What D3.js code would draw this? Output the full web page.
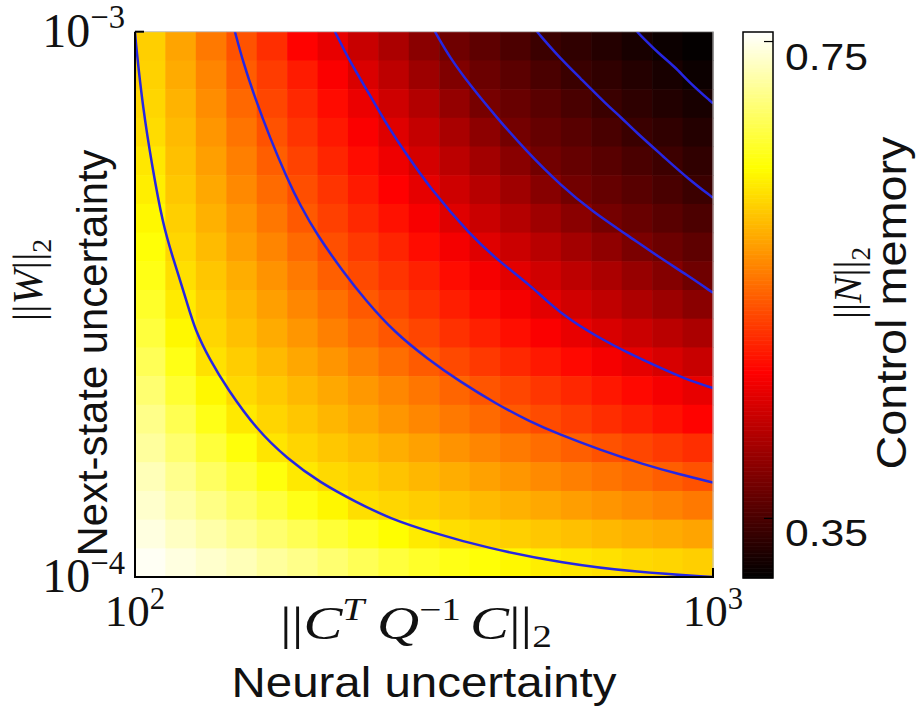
<!DOCTYPE html>
<html>
<head>
<meta charset="utf-8">
<script src="https://cdn.jsdelivr.net/npm/d3@7/dist/d3.min.js"></script>
<style>
  html, body { margin: 0; padding: 0; background: #fff; }
  svg { display: block; }
</style>
</head>
<body>
<svg id="chart" width="921" height="719"></svg>
<script>
// Cell centres of the log-spaced grid
const neuralUncertainty = [106.2, 119.9, 135.4, 152.9, 172.5, 194.8, 219.9, 248.1, 280.1, 316.2,
                           356.9, 402.9, 454.9, 513.4, 579.6, 654.3, 738.5, 833.7, 941.2];
// Rows listed from the top of the plot (largest ||W||) downwards
const nextStateUncertainty = [9.412e-4, 8.337e-4, 7.386e-4, 6.543e-4, 5.797e-4, 5.135e-4, 4.549e-4,
                              4.030e-4, 3.570e-4, 3.162e-4, 2.802e-4, 2.481e-4, 2.198e-4, 1.948e-4,
                              1.725e-4, 1.528e-4, 1.354e-4, 1.199e-4, 1.062e-4];

// ||N||_2 control memory, one row per next-state uncertainty level
const controlMemory = [
  [0.611,0.582,0.553,0.527,0.503,0.473,0.456,0.435,0.415,0.393,0.375,0.363,0.351,0.340,0.332,0.324,0.316,0.308,0.303],
  [0.613,0.587,0.561,0.534,0.512,0.490,0.469,0.447,0.427,0.406,0.386,0.372,0.361,0.350,0.339,0.332,0.324,0.316,0.308],
  [0.616,0.592,0.567,0.542,0.519,0.499,0.479,0.459,0.439,0.420,0.400,0.380,0.370,0.360,0.349,0.339,0.331,0.323,0.316],
  [0.620,0.597,0.573,0.550,0.527,0.507,0.488,0.469,0.450,0.432,0.414,0.395,0.378,0.368,0.359,0.349,0.339,0.332,0.324],
  [0.627,0.601,0.579,0.557,0.535,0.516,0.497,0.480,0.461,0.443,0.426,0.409,0.392,0.377,0.368,0.359,0.350,0.341,0.332],
  [0.632,0.606,0.585,0.564,0.544,0.524,0.507,0.489,0.472,0.455,0.439,0.423,0.407,0.391,0.377,0.368,0.359,0.349,0.340],
  [0.639,0.611,0.591,0.572,0.552,0.532,0.515,0.499,0.483,0.467,0.450,0.436,0.421,0.407,0.393,0.379,0.370,0.360,0.351],
  [0.646,0.616,0.598,0.579,0.561,0.543,0.525,0.510,0.496,0.480,0.465,0.451,0.437,0.424,0.410,0.397,0.383,0.373,0.363],
  [0.653,0.622,0.605,0.588,0.571,0.554,0.536,0.521,0.507,0.494,0.480,0.466,0.453,0.440,0.427,0.415,0.402,0.389,0.375],
  [0.662,0.630,0.611,0.595,0.579,0.563,0.548,0.532,0.518,0.505,0.492,0.479,0.466,0.453,0.441,0.429,0.417,0.405,0.393],
  [0.671,0.639,0.616,0.601,0.587,0.573,0.558,0.544,0.530,0.518,0.505,0.493,0.481,0.469,0.457,0.446,0.436,0.425,0.415],
  [0.682,0.653,0.623,0.610,0.597,0.584,0.572,0.559,0.546,0.533,0.521,0.510,0.499,0.488,0.477,0.466,0.455,0.445,0.435],
  [0.694,0.666,0.639,0.618,0.607,0.596,0.585,0.574,0.563,0.551,0.540,0.529,0.519,0.508,0.498,0.487,0.477,0.466,0.456],
  [0.705,0.680,0.654,0.629,0.615,0.605,0.594,0.584,0.573,0.563,0.553,0.543,0.532,0.522,0.513,0.502,0.493,0.483,0.473],
  [0.714,0.693,0.670,0.648,0.626,0.615,0.606,0.598,0.589,0.580,0.571,0.562,0.554,0.545,0.536,0.527,0.519,0.511,0.503],
  [0.726,0.707,0.687,0.668,0.649,0.629,0.618,0.611,0.603,0.595,0.588,0.580,0.573,0.565,0.557,0.550,0.543,0.535,0.527],
  [0.735,0.719,0.703,0.687,0.671,0.654,0.638,0.622,0.616,0.610,0.604,0.597,0.591,0.585,0.578,0.572,0.566,0.560,0.553],
  [0.744,0.731,0.719,0.706,0.693,0.681,0.668,0.655,0.643,0.630,0.621,0.616,0.611,0.606,0.601,0.596,0.591,0.587,0.582],
  [0.753,0.744,0.735,0.726,0.714,0.705,0.694,0.682,0.671,0.662,0.653,0.646,0.639,0.632,0.627,0.623,0.618,0.615,0.611]
];

// Iso-lines of control memory, as [neural uncertainty, next-state uncertainty] points
const contour1 = [[100,1.0e-3],[100.4,9.45e-4],[103.2,7.24e-4],[107.0,5.69e-4],[111.8,4.42e-4],[116.3,3.85e-4],
                  [123.0,3.19e-4],[127.0,2.84e-4],[134.8,2.50e-4],[144.2,2.22e-4],[162.6,1.86e-4],[183.2,1.65e-4],
                  [208.9,1.49e-4],[242.1,1.37e-4],[276.1,1.28e-4],[323.6,1.21e-4],[406.4,1.13e-4],[549.5,1.06e-4],
                  [738.9,1.02e-4],[1000,1.0e-4]];
const contour2 = [[148.9,1.0e-3],[153.8,8.80e-4],[161.3,7.56e-4],[171.3,6.38e-4],[183.2,5.39e-4],[193.0,4.81e-4],
                  [206.5,4.24e-4],[229.1,3.63e-4],[251.0,3.21e-4],[281.2,2.81e-4],[321.0,2.51e-4],[363.0,2.29e-4],
                  [424.0,2.07e-4],[481.0,1.93e-4],[539.0,1.83e-4],[638.0,1.71e-4],[756.0,1.61e-4],[880.0,1.54e-4],
                  [1000,1.49e-4]];
const contour3 = [[221.8,1.0e-3],[235.5,8.80e-4],[255.1,7.65e-4],[272.9,6.74e-4],[295.5,5.94e-4],[323.8,5.17e-4],
                  [379.9,4.24e-4],[428.0,3.78e-4],[482.5,3.43e-4],[518.2,3.19e-4],[565.6,2.96e-4],[630.0,2.76e-4],
                  [709.9,2.58e-4],[809.5,2.42e-4],[901.6,2.30e-4],[1000,2.22e-4]];
const contour4 = [[330.4,1.0e-3],[350.8,8.95e-4],[379.9,7.98e-4],[422.9,6.95e-4],[476.7,6.02e-4],[543.6,5.24e-4],
                  [620.0,4.67e-4],[709.9,4.24e-4],[809.5,3.85e-4],[901.6,3.58e-4],[1000,3.32e-4]];
const contour5 = [[496.1,1.0e-3],[537.0,9.07e-4],[588.7,8.23e-4],[655.6,7.34e-4],[695.0,6.95e-4],[733.8,6.56e-4],
                  [822.5,5.89e-4],[906.5,5.37e-4],[1000,4.96e-4]];
const contour6 = [[738.9,1.0e-3],[809.5,9.07e-4],[861.0,8.61e-4],[906.5,8.10e-4],[1000,7.39e-4]];

const xTickValues = [100, 1000];
const yTickValues = [1e-4, 1e-3];
const colorbarTicks = [0.35, 0.75];
const colorLimits = [0.30, 0.758];

// MATLAB-style "hot" colour map
function hot(t) {
  t = Math.max(0, Math.min(1, t));
  const r = Math.min(1, t / 0.375);
  const g = Math.max(0, Math.min(1, (t - 0.375) / 0.375));
  const b = Math.max(0, Math.min(1, (t - 0.75) / 0.25));
  return d3.rgb(r * 255, g * 255, b * 255).toString();
}

const svg = d3.select("#chart");
const plot = { left: 135, right: 713, top: 31.7, bottom: 577 };

const x = d3.scaleLog().domain([100, 1000]).range([plot.left, plot.right]);
const y = d3.scaleLog().domain([1e-4, 1e-3]).range([plot.bottom, plot.top]);
const color = d3.scaleSequential(hot).domain(colorLimits).clamp(true);

// cell boundaries halfway (in log space) between neighbouring centres
function bounds(centres, lo, hi) {
  const sorted = centres.slice().sort((a, b) => a - b);
  const b = [lo];
  for (let i = 0; i < sorted.length - 1; i++) b.push(Math.sqrt(sorted[i] * sorted[i + 1]));
  b.push(hi);
  return { sorted, b };
}
const xb = bounds(neuralUncertainty, 100, 1000);
const yb = bounds(nextStateUncertainty, 1e-4, 1e-3);

const cells = [];
nextStateUncertainty.forEach((w, r) => {
  const k = yb.sorted.indexOf(w);
  neuralUncertainty.forEach((n, c) => {
    const j = xb.sorted.indexOf(n);
    cells.push({ x0: xb.b[j], x1: xb.b[j + 1], y0: yb.b[k], y1: yb.b[k + 1], v: controlMemory[r][c] });
  });
});

svg.append("defs").append("clipPath").attr("id", "plotClip")
  .append("rect")
  .attr("x", plot.left).attr("y", plot.top)
  .attr("width", plot.right - plot.left).attr("height", plot.bottom - plot.top);

svg.append("g")
  .selectAll("rect")
  .data(cells)
  .join("rect")
  .attr("x", d => x(d.x0))
  .attr("y", d => y(d.y1))
  .attr("width", d => x(d.x1) - x(d.x0) + 0.6)
  .attr("height", d => y(d.y0) - y(d.y1) + 0.6)
  .attr("fill", d => color(d.v));

// iso-lines
const line = d3.line()
  .x(d => x(d[0]))
  .y(d => y(d[1]))
  .curve(d3.curveBasis);

svg.append("g")
  .attr("clip-path", "url(#plotClip)")
  .selectAll("path")
  .data([contour1, contour2, contour3, contour4, contour5, contour6])
  .join("path")
  .attr("d", line)
  .attr("fill", "none")
  .attr("stroke", "#2626e2")
  .attr("stroke-width", 2.5);

// frame: light top/right, black left/bottom
const frame = svg.append("g");
frame.append("line").attr("x1", plot.left).attr("x2", plot.right).attr("y1", plot.top).attr("y2", plot.top)
  .attr("stroke", "#c4c4c4").attr("stroke-width", 1);
frame.append("line").attr("x1", plot.right).attr("x2", plot.right).attr("y1", plot.top).attr("y2", plot.bottom)
  .attr("stroke", "#c4c4c4").attr("stroke-width", 1);
frame.append("line").attr("x1", plot.left).attr("x2", plot.left).attr("y1", plot.top).attr("y2", plot.bottom + 1)
  .attr("stroke", "#000").attr("stroke-width", 2);
frame.append("line").attr("x1", plot.left - 1).attr("x2", plot.right + 1).attr("y1", plot.bottom).attr("y2", plot.bottom)
  .attr("stroke", "#000").attr("stroke-width", 2);

// inward ticks
frame.selectAll(".xt").data(xTickValues).join("line")
  .attr("x1", d => x(d)).attr("x2", d => x(d))
  .attr("y1", plot.bottom).attr("y2", plot.bottom - 9)
  .attr("stroke", "#000").attr("stroke-width", 2);
frame.selectAll(".yt").data(yTickValues).join("line")
  .attr("y1", d => y(d)).attr("y2", d => y(d))
  .attr("x1", plot.left).attr("x2", plot.left + 9)
  .attr("stroke", "#000").attr("stroke-width", 2);

const serif = "'Liberation Serif', 'DejaVu Serif', serif";
const sans = "'Liberation Sans', Arial, sans-serif";

// power-of-ten tick labels
function powLabel(sel, exp, size) {
  sel.append("tspan").text("10");
  sel.append("tspan").attr("dy", -0.38 * size).attr("font-size", size * 0.68).text(exp);
}
xTickValues.forEach(v => {
  const t = svg.append("text")
    .attr("x", x(v)).attr("y", 626)
    .attr("text-anchor", "middle")
    .attr("font-family", serif).attr("font-size", 45).attr("fill", "#111");
  powLabel(t, String(Math.round(Math.log10(v))), 45);
});
yTickValues.forEach(v => {
  const t = svg.append("text")
    .attr("x", 125).attr("y", y(v) + 15)
    .attr("text-anchor", "end")
    .attr("font-family", serif).attr("font-size", 48).attr("fill", "#111");
  powLabel(t, "\u2212" + Math.abs(Math.round(Math.log10(v))), 48);
});

// x-axis math label ||C^T Q^{-1} C||_2
const xm = svg.append("text")
  .attr("x", 416).attr("y", 639)
  .attr("text-anchor", "middle")
  .attr("font-family", serif).attr("font-size", 46).attr("fill", "#111")
  .attr("textLength", 272).attr("lengthAdjust", "spacingAndGlyphs");
xm.append("tspan").text("||");
xm.append("tspan").attr("font-style", "italic").text("C");
xm.append("tspan").attr("font-style", "italic").attr("font-size", 31).attr("dy", -19).text("T");
xm.append("tspan").attr("font-style", "italic").attr("dy", 19).attr("dx", 10).text("Q");
xm.append("tspan").attr("font-size", 31).attr("dy", -19).text("\u22121");
xm.append("tspan").attr("font-style", "italic").attr("dy", 19).attr("dx", 7).text("C");
xm.append("tspan").text("||");
xm.append("tspan").attr("font-size", 31).attr("dy", 8).text("2");

svg.append("text")
  .attr("x", 424).attr("y", 697)
  .attr("text-anchor", "middle")
  .attr("font-family", sans).attr("font-size", 43).attr("fill", "#111")
  .attr("textLength", 385).attr("lengthAdjust", "spacingAndGlyphs")
  .text("Neural uncertainty");

// y-axis labels
const wm = svg.append("text")
  .attr("transform", "translate(42,280) rotate(-90)")
  .attr("text-anchor", "middle")
  .attr("font-family", serif).attr("font-size", 42).attr("fill", "#111");
wm.append("tspan").text("||");
wm.append("tspan").attr("font-style", "italic").text("W");
wm.append("tspan").text("||");
wm.append("tspan").attr("font-size", 28).attr("dy", 9).text("2");

svg.append("text")
  .attr("transform", "translate(107,353) rotate(-90)")
  .attr("text-anchor", "middle")
  .attr("font-family", sans).attr("font-size", 42).attr("fill", "#111")
  .attr("textLength", 407).attr("lengthAdjust", "spacingAndGlyphs")
  .text("Next-state uncertainty");

// colour bar
const cb = { x: 743, w: 30, top: 32, bottom: 578 };
const cy = d3.scaleLinear().domain(colorLimits).range([cb.bottom, cb.top]);
const step = (colorLimits[1] - colorLimits[0]) / 400;
const steps = d3.range(colorLimits[0], colorLimits[1], step);
svg.append("g")
  .selectAll("rect")
  .data(steps)
  .join("rect")
  .attr("x", cb.x)
  .attr("width", cb.w)
  .attr("y", d => cy(d + step) - 0.3)
  .attr("height", d => cy(d) - cy(d + step) + 0.6)
  .attr("fill", d => color(d));
svg.append("rect")
  .attr("x", cb.x).attr("y", cb.top).attr("width", cb.w).attr("height", cb.bottom - cb.top)
  .attr("fill", "none").attr("stroke", "#000").attr("stroke-width", 1.5);
svg.selectAll(".cbt").data(colorbarTicks).join("line")
  .attr("x1", cb.x + cb.w).attr("x2", cb.x + cb.w - 9)
  .attr("y1", d => cy(d)).attr("y2", d => cy(d))
  .attr("stroke", "#000").attr("stroke-width", 1.2);
svg.selectAll(".cbl").data(colorbarTicks).join("text")
  .attr("x", 785).attr("y", d => cy(d) + 28)
  .attr("font-family", sans).attr("font-size", 37).attr("fill", "#111")
  .attr("textLength", 83).attr("lengthAdjust", "spacingAndGlyphs")
  .text(d => d.toFixed(2));

const nm = svg.append("text")
  .attr("transform", "translate(861,283) rotate(-90)")
  .attr("text-anchor", "middle")
  .attr("font-family", serif).attr("font-size", 40).attr("fill", "#111");
nm.append("tspan").text("||");
nm.append("tspan").attr("font-style", "italic").text("N");
nm.append("tspan").text("||");
nm.append("tspan").attr("font-size", 27).attr("dy", 9).text("2");

svg.append("text")
  .attr("transform", "translate(906,303) rotate(-90)")
  .attr("text-anchor", "middle")
  .attr("font-family", sans).attr("font-size", 42).attr("fill", "#111")
  .attr("textLength", 333).attr("lengthAdjust", "spacingAndGlyphs")
  .text("Control memory");
</script>
</body>
</html>
